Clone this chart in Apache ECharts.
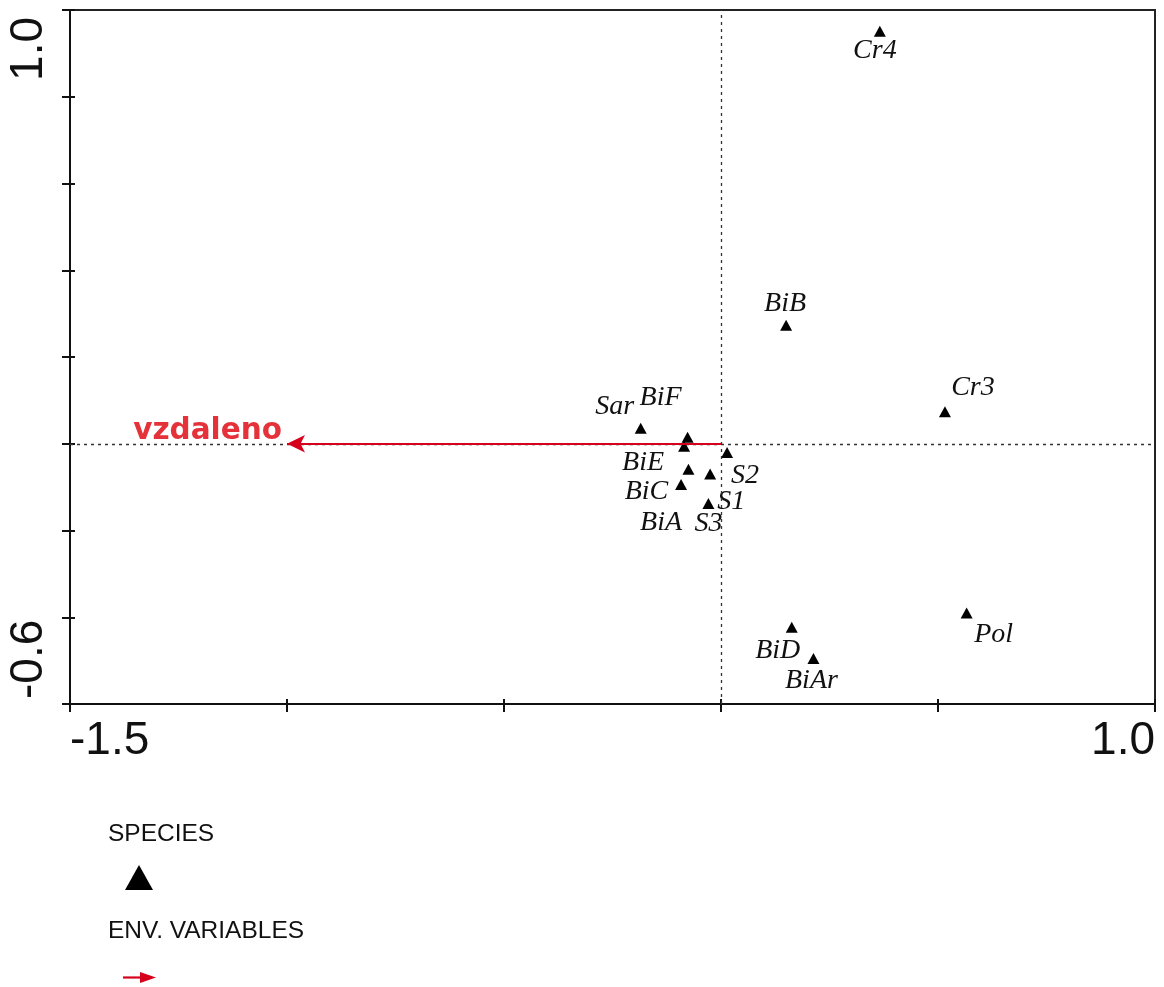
<!DOCTYPE html>
<html>
<head>
<meta charset="utf-8">
<script src="https://cdn.jsdelivr.net/npm/echarts@6/dist/echarts.min.js"></script>
<style>
  html, body { margin: 0; padding: 0; background: #fff; }
  #chart { width: 1164px; height: 987px; }
</style>
</head>
<body>
<div id="chart"></div>
<script>
// Species scores on the first two ordination axes
const speciesNames = ['Cr4', 'BiB', 'Cr3', 'Pol', 'BiD', 'BiAr', 'Sar', 'BiF', 'BiE', 'BiC', 'BiA', 'S1', 'S3', 'S2'];
const speciesX = [0.366, 0.150, 0.516, 0.566, 0.163, 0.213, -0.185, -0.077, -0.085, -0.075, -0.092, -0.025, -0.029, 0.014];
const speciesY = [0.951, 0.273, 0.074, -0.390, -0.423, -0.495, 0.036, 0.015, -0.006, -0.059, -0.094, -0.070, -0.138, -0.020];

// Environmental variable arrow tips
const envNames = ['vzdaleno'];
const envX = [-1.0];
const envY = [0.0];

// Axis extents and the end labels that are printed
const xRange = [-1.5, 1.0];
const yRange = [-0.6, 1.0];
const xTickLabels = ['-1.5', '1.0'];
const yTickLabels = ['-0.6', '1.0'];

// Legend captions
const legendTitles = ['SPECIES', 'ENV. VARIABLES'];

// Where each species name sits relative to its marker (px)
const labelShift = {
  Cr4: [-5, 19], BiB: [-1, -22], Cr3: [28, -24], Pol: [27, 22], BiD: [-14, 23], BiAr: [-2, 22],
  Sar: [-26, -21], BiF: [-27, -40], BiE: [-41, 16], BiC: [-42, 22], BiA: [-20, 38],
  S1: [21, 28], S3: [0, 20], S2: [18, 23]
};

const INK = '#111';
const RED = '#d6001c';
const RED_LABEL = '#e5323a';

const chart = echarts.init(document.getElementById('chart'), null, { renderer: 'canvas' });

const axisBase = (min, max, interval, position) => ({
  type: 'value', min, max, interval, position,
  axisLine: { show: true, onZero: false, lineStyle: { color: INK, width: 2 } },
  axisTick: { show: true, inside: false, length: 8, lineStyle: { color: INK, width: 2 } },
  axisLabel: { show: false },
  splitLine: { show: false }
});
const innerTicks = (min, max, interval, position) => ({
  type: 'value', min, max, interval, position,
  axisLine: { show: false, onZero: false },
  axisTick: { show: true, inside: true, length: 5, lineStyle: { color: INK, width: 2 } },
  axisLabel: { show: false },
  splitLine: { show: false }
});

const speciesData = speciesNames.map((n, i) => ({
  name: n,
  value: [speciesX[i], speciesY[i]],
  label: { offset: labelShift[n] }
}));

const envData = envNames.map((n, i) => ({ name: n, value: [envX[i], envY[i]] }));

chart.setOption({
  animation: false,
  backgroundColor: '#fff',
  grid: {
    left: 70, right: 9, top: 10, bottom: 283,
    show: true, borderColor: '#222', borderWidth: 2, backgroundColor: 'transparent'
  },
  xAxis: [
    axisBase(xRange[0], xRange[1], 0.5, 'bottom'),
    innerTicks(xRange[0], xRange[1], 0.5, 'bottom')
  ],
  yAxis: [
    axisBase(yRange[0], yRange[1], 0.2, 'left'),
    innerTicks(yRange[0], yRange[1], 0.2, 'left')
  ],
  series: [
    {
      name: 'axes-origin',
      type: 'scatter',
      data: [],
      z: 1,
      markLine: {
        silent: true,
        symbol: 'none',
        label: { show: false },
        lineStyle: { type: [3, 4], color: '#333', width: 1.3 },
        data: [{ xAxis: 0 }, { yAxis: 0 }]
      }
    },
    {
      name: 'ENV. VARIABLES',
      type: 'scatter',
      z: 3,
      symbolSize: 0,
      itemStyle: { opacity: 1 },
      data: envData,
      label: {
        show: true,
        position: 'left',
        distance: 5,
        offset: [0, -12],
        formatter: '{b}',
        color: RED_LABEL,
        opacity: 1,
        fontFamily: 'DejaVu Sans',
        fontWeight: 'bold',
        fontSize: 29.5
      },
      markLine: {
        silent: true,
        symbol: ['none', 'arrow'],
        symbolSize: [13, 18],
        label: { show: false },
        lineStyle: { type: 'solid', color: RED, width: 2.2, opacity: 1 },
        data: envData.map(d => [{ coord: [0, 0] }, { coord: d.value }])
      }
    },
    {
      name: 'SPECIES',
      type: 'scatter',
      z: 4,
      symbol: 'triangle',
      symbolSize: [12, 11],
      itemStyle: { color: '#000', opacity: 1 },
      data: speciesData,
      label: {
        show: true,
        position: 'inside',
        formatter: '{b}',
        color: INK,
        opacity: 1,
        fontFamily: '"Liberation Serif", "Times New Roman", serif',
        fontStyle: 'italic',
        fontSize: 28
      }
    }
  ]
});

// Axis end labels, placed through the grid's own coordinate system
const [xl, yb] = chart.convertToPixel({ gridIndex: 0 }, [xRange[0], yRange[0]]);
const [xr, yt] = chart.convertToPixel({ gridIndex: 0 }, [xRange[1], yRange[1]]);
const tickFont = { fontFamily: '"Liberation Sans", Arial, sans-serif', fontSize: 46, fill: INK };
const legendFont = { fontFamily: '"Liberation Sans", Arial, sans-serif', fontSize: 24.5, fill: INK };

chart.setOption({
  graphic: [
    { type: 'text', x: xl, y: yb + 37, style: Object.assign({ text: xTickLabels[0], align: 'left', verticalAlign: 'middle' }, tickFont) },
    { type: 'text', x: xr, y: yb + 37, style: Object.assign({ text: xTickLabels[1], align: 'right', verticalAlign: 'middle' }, tickFont) },
    { type: 'text', x: 29, y: yb - 5, rotation: Math.PI / 2, style: Object.assign({ text: yTickLabels[0], align: 'left', verticalAlign: 'middle' }, tickFont) },
    { type: 'text', x: 29, y: yt + 7, rotation: Math.PI / 2, style: Object.assign({ text: yTickLabels[1], align: 'right', verticalAlign: 'middle' }, tickFont) },

    // Legend block below the plot
    { type: 'text', x: 108, y: 834, style: Object.assign({ text: legendTitles[0], align: 'left', verticalAlign: 'middle' }, legendFont) },
    { type: 'polygon', shape: { points: [[125, 890], [153, 890], [139, 865]] }, style: { fill: '#000' } },
    { type: 'text', x: 108, y: 931, style: Object.assign({ text: legendTitles[1], align: 'left', verticalAlign: 'middle' }, legendFont) },
    { type: 'line', shape: { x1: 123, y1: 977.5, x2: 142, y2: 977.5 }, style: { stroke: RED, lineWidth: 2.2 } },
    { type: 'polygon', shape: { points: [[140, 972], [156, 977.5], [140, 983]] }, style: { fill: RED } }
  ]
});
</script>
</body>
</html>
